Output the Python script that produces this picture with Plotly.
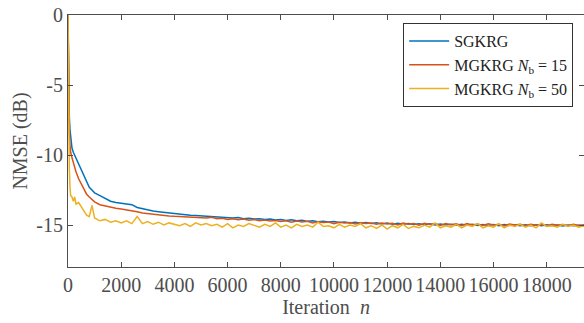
import plotly.graph_objects as go

# Iteration grid (samples)
iters = [0, 25, 50, 75, 100, 150, 200, 250, 300, 400, 500, 600, 700, 800, 900, 1000] + list(range(1200, 19401, 200))

sgkrg = [0, -5.5, -7.3, -8.2, -8.8, -9.5, -9.8, -10.0, -10.2, -10.6, -11.1, -11.5, -11.9, -12.3, -12.5, -12.7,
         -12.9, -13.1, -13.3, -13.4, -13.45, -13.5, -13.55, -13.75, -13.85, -13.95, -14.0, -14.05, -14.1, -14.15, -14.2, -14.22, -14.27, -14.3, -14.33, -14.35,
         -14.38, -14.42, -14.40, -14.47, -14.44, -14.50, -14.47, -14.55, -14.51, -14.57,
         -14.55, -14.61, -14.57, -14.64, -14.60, -14.67, -14.63, -14.70, -14.66, -14.74,
         -14.70, -14.77, -14.73, -14.79, -14.75, -14.82, -14.78, -14.85, -14.80, -14.87,
         -14.82, -14.89, -14.84, -14.92, -14.86, -14.94, -14.88, -14.95, -14.90, -14.97,
         -14.91, -14.98, -14.92, -15.00, -14.93, -15.00, -14.94, -15.02, -14.95, -15.02,
         -14.95, -15.03, -14.96, -15.04, -14.97, -15.05, -14.97, -15.04, -14.98, -15.05,
         -14.98, -15.06, -14.99, -15.05, -14.98, -15.06, -15.00, -15.07, -15.00, -15.06,
         -15.01, -15.05]

mgkrg15 = [0, -6.5, -8.3, -9.3, -9.8, -10.2, -10.6, -10.9, -11.2, -11.7, -12.1, -12.5, -12.8, -13.0, -13.2, -13.35,
           -13.55, -13.65, -13.75, -13.8, -13.85, -13.9, -13.95, -14.05, -14.15, -14.2, -14.25, -14.3, -14.32, -14.35, -14.38, -14.4, -14.42, -14.45, -14.47, -14.48,
           -14.5, -14.45, -14.55, -14.52, -14.6, -14.55, -14.62, -14.58, -14.66, -14.6,
           -14.7, -14.64, -14.72, -14.68, -14.75, -14.7, -14.8, -14.72, -14.78, -14.74,
           -14.85, -14.76, -14.82, -14.78, -14.9, -14.8, -14.86, -14.82, -14.92, -14.84,
           -14.9, -14.86, -14.95, -14.85, -14.93, -14.88, -15.0, -14.86, -14.95, -14.9,
           -15.02, -14.88, -14.97, -14.9, -15.03, -14.9, -14.98, -14.92, -15.05, -14.9,
           -15.0, -14.93, -15.04, -14.92, -15.0, -14.95, -15.06, -14.93, -15.0, -14.95,
           -15.05, -14.94, -15.02, -14.96, -15.07, -14.95, -15.02, -14.97, -15.06, -14.95,
           -15.03, -14.98]

mgkrg50 = [0, -9.0, -11.0, -12.3, -12.9, -13.0, -13.3, -13.0, -13.5, -13.4, -13.7, -14.1, -14.3, -14.4, -13.6, -14.5,
           -14.7, -14.6, -14.8, -14.7, -14.85, -14.7, -14.9, -14.4, -14.9, -14.75, -14.95, -14.8, -15.0, -14.85, -14.95, -15.05, -14.9, -15.1, -14.85, -15.0,
           -14.9, -15.05, -14.95, -15.15, -14.9, -15.2, -15.0, -15.1, -14.9, -15.05,
           -15.15, -14.95, -15.1, -14.85, -15.15, -15.0, -15.2, -14.95, -15.1, -15.0,
           -15.15, -14.8, -15.1, -15.05, -15.2, -14.95, -15.15, -15.0, -15.1, -14.9,
           -15.2, -15.05, -15.25, -15.0, -15.3, -15.05, -15.2, -14.95, -15.25, -15.1,
           -15.2, -15.0, -15.15, -14.85, -15.2, -15.05, -15.15, -14.95, -15.2, -15.0,
           -15.1, -14.9, -15.2, -15.05, -15.15, -14.9, -15.2, -15.0, -15.1, -14.95,
           -15.15, -15.0, -15.2, -14.85, -15.1, -15.05, -15.15, -14.95, -15.1, -15.0,
           -15.15, -15.05]

names = ["SGKRG", "MGKRG <i>N</i><sub>b</sub> = 15", "MGKRG <i>N</i><sub>b</sub> = 50"]
colors = ["#0072BD", "#D95319", "#EDB120"]

x_ticks = [0, 2000, 4000, 6000, 8000, 10000, 12000, 14000, 16000, 18000]
y_ticks = [0, -5, -10, -15]
y_ticktext = ["0", "-5", "-10", "-15"]

font_family = "Liberation Serif"
axis_col = "#4d4d4d"
tick_font = dict(family=font_family, size=20, color=axis_col)

fig = go.Figure()
for ys, nm, col in zip([sgkrg, mgkrg15, mgkrg50], names, colors):
    fig.add_trace(go.Scatter(x=iters, y=ys, mode="lines", name=nm,
                             line=dict(color=col, width=1.5)))

fig.update_layout(
    width=584, height=323,
    margin=dict(l=68, r=0, t=15, b=56),
    paper_bgcolor="white", plot_bgcolor="white",
    font=dict(family=font_family, size=20, color=axis_col),
    showlegend=True,
    legend=dict(x=0.979, xanchor="right", y=0.968, yanchor="top",
                bgcolor="white", bordercolor="#333333", borderwidth=1,
                font=dict(family=font_family, size=16, color="#222222"),
                tracegroupgap=0, itemwidth=40),
)
fig.update_xaxes(range=[0, 19400], tickvals=x_ticks, ticktext=[str(v) for v in x_ticks],
                 tickfont=tick_font, tickangle=0,
                 ticks="inside", ticklen=5, tickcolor=axis_col,
                 showline=True, linecolor=axis_col, linewidth=1, mirror="ticks",
                 showgrid=False, zeroline=False,
                 title=dict(text="Iteration  <i>n</i>", standoff=1, font=tick_font),
                 automargin=False)
fig.update_yaxes(range=[-18, 0], tickvals=y_ticks, ticktext=y_ticktext,
                 tickfont=tick_font,
                 ticks="inside", ticklen=5, tickcolor=axis_col,
                 showline=True, linecolor=axis_col, linewidth=1, mirror="ticks",
                 showgrid=False, zeroline=False,
                 title=dict(text="NMSE (dB)", standoff=3, font=tick_font),
                 automargin=False)

fig.write_html("out.html")
